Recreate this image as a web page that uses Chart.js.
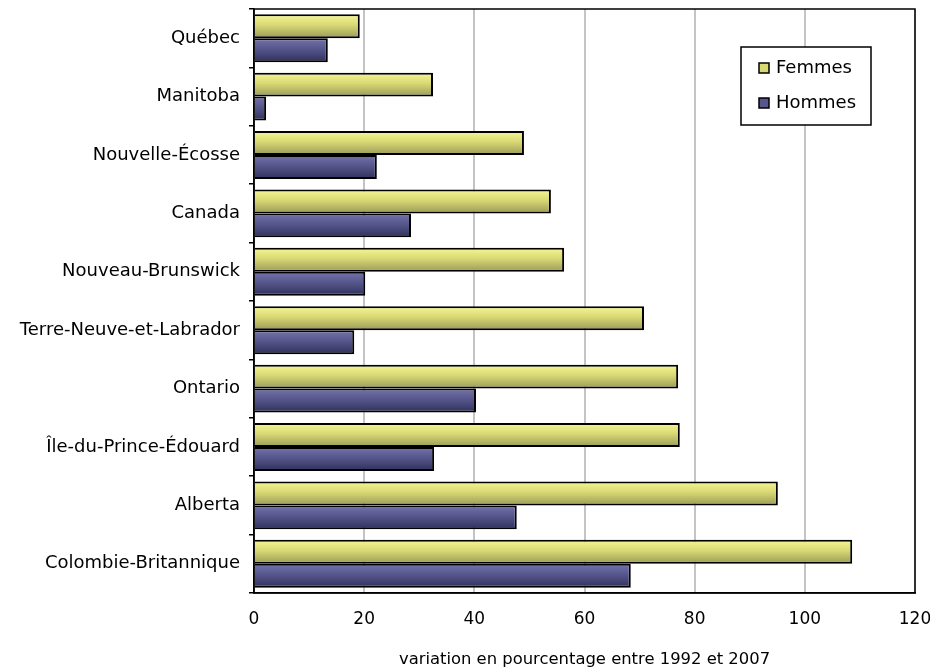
<!DOCTYPE html>
<html lang="fr">
<head>
<meta charset="UTF-8">
<title>Variation en pourcentage entre 1992 et 2007</title>
<script src="https://cdn.jsdelivr.net/npm/chart.js"></script>
<style>
  body { margin: 0; background: #fff; }
  #wrap { width: 930px; height: 672px; }
</style>
</head>
<body>
<div id="wrap"><canvas id="chart"></canvas></div>
<script>
// data
const provinces = ['Québec', 'Manitoba', 'Nouvelle-Écosse', 'Canada', 'Nouveau-Brunswick',
  'Terre-Neuve-et-Labrador', 'Ontario', 'Île-du-Prince-Édouard', 'Alberta', 'Colombie-Britannique'];
const femmes = [19.2, 32.5, 49.0, 53.9, 56.3, 70.8, 77.0, 77.3, 95.1, 108.6];
const hommes = [13.4, 2.2, 22.3, 28.5, 20.2, 18.2, 40.3, 32.7, 47.7, 68.4];
const xTicks = [0, 20, 40, 60, 80, 100, 120];

const family = 'DejaVu Sans, sans-serif';
const labelFont = { family: family, size: 18 };
const tickFont = { family: family, size: 17 };
const titleFont = { family: family, size: 16.4 };

// shaded bars like the old 3D office charts
const shades = {
  Femmes: ['#f6f694', '#d8d874', '#9a9a58'],
  Hommes: ['#7474ac', '#56568c', '#30305c']
};

const gradientBars = {
  id: 'gradientBars',
  beforeDatasetsDraw(chart) {
    const ctx = chart.ctx;
    chart.data.datasets.forEach((ds, i) => {
      const meta = chart.getDatasetMeta(i);
      const c = shades[ds.label];
      meta.data.forEach(bar => {
        const top = bar.y - bar.height / 2;
        const g = ctx.createLinearGradient(0, top, 0, top + bar.height);
        g.addColorStop(0, c[0]);
        g.addColorStop(0.45, c[1]);
        g.addColorStop(1, c[2]);
        bar.options = Object.assign({}, bar.options, { backgroundColor: g });
      });
    });
  }
};

const frameAndLegend = {
  id: 'frameAndLegend',
  afterDatasetsDraw(chart) {
    const ctx = chart.ctx;
    const a = chart.chartArea;
    ctx.save();
    ctx.strokeStyle = '#000';
    ctx.lineWidth = 1.5;
    ctx.strokeRect(a.left, a.top, a.right - a.left, a.bottom - a.top);

    // legend box
    const bx = 741, by = 47, bw = 130, bh = 78;
    ctx.fillStyle = '#fff';
    ctx.fillRect(bx, by, bw, bh);
    ctx.strokeRect(bx, by, bw, bh);
    ctx.font = labelFont.size + 'px ' + family;
    ctx.textBaseline = 'middle';
    chart.data.datasets.forEach((ds, i) => {
      const y = by + 21 + i * 35;
      ctx.fillStyle = shades[ds.label][1];
      ctx.fillRect(759, y - 5, 10, 10);
      ctx.lineWidth = 1.5;
      ctx.strokeRect(759, y - 5, 10, 10);
      ctx.fillStyle = '#000';
      ctx.fillText(ds.label, 776, y);
    });
    ctx.restore();
  }
};

function noPad(s) {
  s.paddingTop = 0; s.paddingBottom = 0; s.paddingLeft = 0; s.paddingRight = 0;
}

new Chart(document.getElementById('chart'), {
  type: 'bar',
  data: {
    labels: provinces,
    datasets: [{
      label: 'Femmes',
      data: femmes,
      borderColor: '#000',
      borderWidth: 2,
      backgroundColor: () => shades.Femmes[1]
    }, {
      label: 'Hommes',
      data: hommes,
      borderColor: '#000',
      borderWidth: 2,
      backgroundColor: () => shades.Hommes[1]
    }]
  },
  options: {
    indexAxis: 'y',
    responsive: true,
    maintainAspectRatio: false,
    animation: false,
    layout: { padding: { top: 9, right: 15, bottom: 0, left: 0 } },
    datasets: { bar: { categoryPercentage: 0.82, barPercentage: 1.0 } },
    plugins: {
      legend: { display: false },
      tooltip: { enabled: false }
    },
    scales: {
      x: {
        min: 0,
        max: 120,
        afterBuildTicks: s => { s.ticks = xTicks.map(v => ({ value: v })); },
        afterFit: s => { s.height = 79; noPad(s); },
        grid: { color: '#c4c4c4', lineWidth: 2, drawTicks: false },
        border: { color: '#000', width: 1.5 },
        ticks: { color: '#000', font: tickFont, padding: 16 },
        title: {
          display: true,
          text: 'variation en pourcentage entre 1992 et 2007',
          color: '#000',
          font: titleFont,
          padding: { top: 19, bottom: 2 }
        }
      },
      y: {
        afterFit: s => { s.width = 254; noPad(s); },
        grid: { offset: true, drawOnChartArea: false, color: '#000', tickLength: 5, lineWidth: 1.5 },
        border: { color: '#000', width: 1.5 },
        ticks: { color: '#000', font: labelFont, padding: 9 }
      }
    }
  },
  plugins: [gradientBars, frameAndLegend]
});
</script>
</body>
</html>
